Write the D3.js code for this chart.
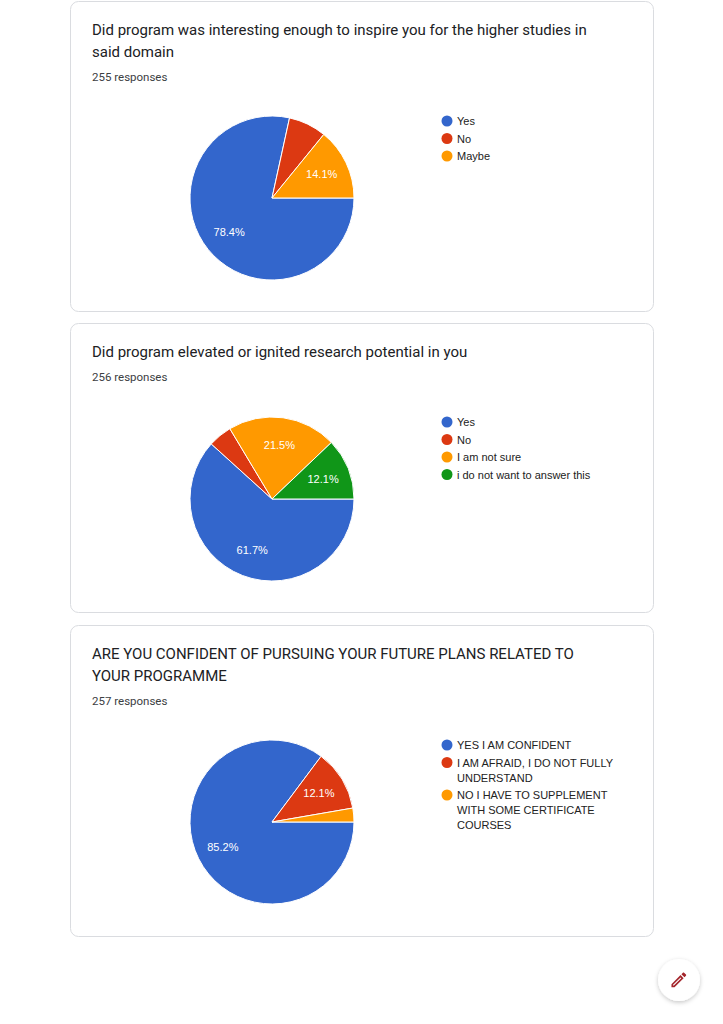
<!DOCTYPE html>
<html><head><meta charset="utf-8">
<script src="https://cdn.jsdelivr.net/npm/d3@7"></script>
<style>body{margin:0;background:#fff;}svg{display:block;}</style>
</head><body>
<svg id="c" width="723" height="1024"></svg>
<script>
// ---- data ----
const titles1 = ["Did program was interesting enough to inspire you for the higher studies in", "said domain"];
const responses1 = "255 responses";
const cats1 = ["Yes", "No", "Maybe"];
const vals1 = [200, 19, 36];

const titles2 = ["Did program elevated or ignited research potential in you"];
const responses2 = "256 responses";
const cats2 = ["Yes", "No", "I am not sure", "i do not want to answer this"];
const vals2 = [158, 12, 55, 31];

const titles3 = ["ARE YOU CONFIDENT OF PURSUING YOUR FUTURE PLANS RELATED TO", "YOUR PROGRAMME"];
const responses3 = "257 responses";
const cats3 = [["YES I AM CONFIDENT"], ["I AM AFRAID, I DO NOT FULLY", "UNDERSTAND"], ["NO I HAVE TO SUPPLEMENT", "WITH SOME CERTIFICATE", "COURSES"]];
const vals3 = [219, 31, 7];

const palette = ["#3366cc", "#dc3912", "#ff9900", "#109618"];

// ---- layout ----
const svg = d3.select("#c");
const font = "Roboto, Arial, sans-serif";
const chartFont = "Arial, 'Liberation Sans', sans-serif";
const defs = svg.append("defs");
const f = defs.append("filter").attr("id","sh").attr("x","-50%").attr("y","-50%").attr("width","200%").attr("height","200%");
f.append("feDropShadow").attr("dx",0).attr("dy",1.5).attr("stdDeviation",2).attr("flood-color","#000").attr("flood-opacity",0.22);

const cards = [
  {top: 1, h: 310, titles: titles1, resp: responses1, cats: cats1.map(c=>[c]), vals: vals1, cy: 198, legTop: 121},
  {top: 323, h: 289, titles: titles2, resp: responses2, cats: cats2.map(c=>[c]), vals: vals2, cy: 499, legTop: 422},
  {top: 625, h: 311, titles: titles3, resp: responses3, cats: cats3, vals: vals3, cy: 822, legTop: 745}
];

const R = 82;
const pie = d3.pie().sort(null).startAngle(Math.PI/2).endAngle(Math.PI/2 + 2*Math.PI);
const arc = d3.arc().innerRadius(0).outerRadius(R);
const labelArc = d3.arc().innerRadius(55).outerRadius(55);

cards.forEach((c, ci) => {
  const g = svg.append("g");
  g.append("rect").attr("x", 70.5).attr("y", c.top + 0.5).attr("width", 583).attr("height", c.h)
    .attr("rx", 8).attr("fill", "#fff").attr("stroke", "#dadce0");
  const titleBase = c.top + 34;
  g.selectAll("text.t").data(c.titles).join("text").attr("class","t")
    .attr("x", 92).attr("y", (d,i) => titleBase + i*22)
    .attr("font-family", font).attr("font-size", 15).attr("fill", "#202124").text(d => d);
  const respY = titleBase + (c.titles.length-1)*22 + 24;
  g.append("text").attr("x", 92).attr("y", respY).attr("font-family", font).attr("font-size", 11.5)
    .attr("fill", "#3c4043").text(c.resp);

  const total = d3.sum(c.vals);
  const arcs = pie(c.vals);
  const pg = g.append("g").attr("transform", `translate(272,${c.cy})`);
  pg.selectAll("path").data(arcs).join("path").attr("d", arc)
    .attr("fill", (d,i) => palette[i]).attr("stroke", "#fff").attr("stroke-width", 1);
  pg.selectAll("text").data(arcs.filter(d => d.value/total > 0.1)).join("text")
    .attr("transform", d => { const p = labelArc.centroid(d); return `translate(${p[0]},${p[1]+4})`; })
    .attr("text-anchor", "middle").attr("font-family", chartFont).attr("font-size", 11).attr("fill", "#fff")
    .text(d => (d.value/total*100).toFixed(1) + "%");

  // legend
  let y = c.legTop;
  c.cats.forEach((lines, i) => {
    g.append("circle").attr("cx", 447).attr("cy", y).attr("r", 5.5).attr("fill", palette[i]);
    lines.forEach((ln, j) => {
      g.append("text").attr("x", 457).attr("y", y + 4 + j*15).attr("font-family", chartFont)
        .attr("font-size", 11).attr("fill", "#222").text(ln);
    });
    y += 17.5 + (lines.length-1)*15;
  });
});

// FAB
const fab = svg.append("g").attr("transform", "translate(679,980)");
fab.append("circle").attr("r", 21).attr("fill", "#fff").attr("filter", "url(#sh)");
fab.append("path").attr("transform", "translate(-10,-10) scale(0.82)")
  .attr("d", "M3 17.25V21h3.75L17.81 9.94l-3.75-3.75L3 17.25zM5.92 19H5v-.92l9.06-9.06.92.92L5.92 19zM20.71 5.63l-2.34-2.34c-.2-.2-.45-.29-.71-.29s-.51.1-.7.29l-1.83 1.83 3.75 3.75 1.83-1.83c.39-.39.39-1.02 0-1.41z")
  .attr("fill", "#a4262c");
</script>
</body></html>
